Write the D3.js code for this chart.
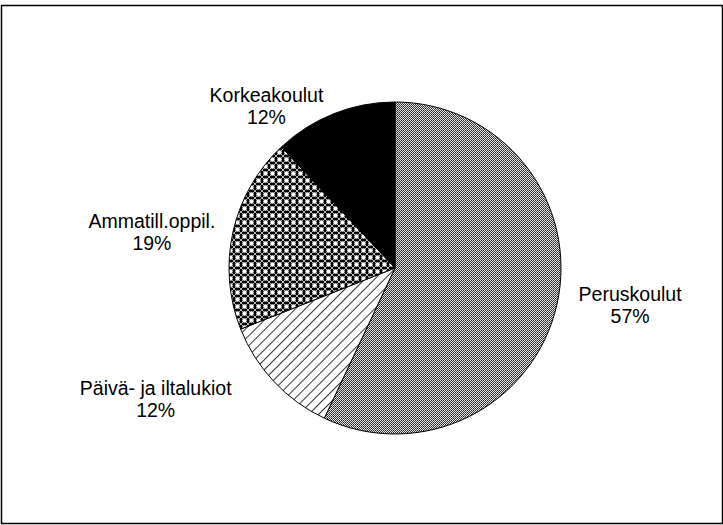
<!DOCTYPE html>
<html>
<head>
<meta charset="utf-8">
<script src="https://cdn.jsdelivr.net/npm/d3@7"></script>
<style>
  body { margin: 0; background: #fff; }
  svg { display: block; }
  text { font-family: "Liberation Sans", Arial, sans-serif; font-size: 19.5px; fill: #000; }
</style>
</head>
<body>
<svg id="chart" width="723" height="525"></svg>
<script>
// data
var categories = ["Peruskoulut", "Päivä- ja iltalukiot", "Ammatill.oppil.", "Korkeakoulut"];
var values = [57, 12, 19, 12];
var valueLabels = ["57%", "12%", "19%", "12%"];
var fills = ["url(#dots)", "url(#hatch)", "url(#cross)", "#000"];

var width = 723, height = 525;
var cx = 395, cy = 268, radius = 166;

var svg = d3.select("#chart");
var defs = svg.append("defs");

// gray checker (dotted grey)
var dots = defs.append("pattern")
    .attr("id", "dots")
    .attr("patternUnits", "userSpaceOnUse")
    .attr("width", 2).attr("height", 2);
dots.append("rect").attr("width", 2).attr("height", 2).attr("fill", "#e4e4e4");
dots.append("rect").attr("width", 1).attr("height", 1).attr("fill", "#222");
dots.append("rect").attr("x", 1).attr("y", 1).attr("width", 1).attr("height", 1).attr("fill", "#444");

// diagonal hatch
var hatch = defs.append("pattern")
    .attr("id", "hatch")
    .attr("patternUnits", "userSpaceOnUse")
    .attr("width", 7).attr("height", 7)
    .attr("patternTransform", "rotate(45)");
hatch.append("rect").attr("width", 7).attr("height", 7).attr("fill", "#fff");
hatch.append("line")
    .attr("x1", 0).attr("y1", 0).attr("x2", 0).attr("y2", 7)
    .attr("stroke", "#000").attr("stroke-width", 1.6);

// crosshatch with white dots
var cross = defs.append("pattern")
    .attr("id", "cross")
    .attr("patternUnits", "userSpaceOnUse")
    .attr("width", 7).attr("height", 7);
cross.append("rect").attr("width", 7).attr("height", 7).attr("fill", "#000");
cross.append("circle").attr("cx", 3.5).attr("cy", 3.5).attr("r", 2.2).attr("fill", "#fff");
cross.append("line").attr("x1", 0).attr("y1", 0).attr("x2", 7).attr("y2", 7)
    .attr("stroke", "#fff").attr("stroke-width", 0.7);
cross.append("line").attr("x1", 7).attr("y1", 0).attr("x2", 0).attr("y2", 7)
    .attr("stroke", "#fff").attr("stroke-width", 0.7);

// frame
svg.append("rect")
    .attr("x", 1.5).attr("y", 5.5)
    .attr("width", width - 2).attr("height", height - 7)
    .attr("fill", "none")
    .attr("stroke", "#000")
    .attr("stroke-width", 1.5);

var pie = d3.pie().sort(null).value(function(d) { return d; });
var arcs = pie(values);
var arc = d3.arc().innerRadius(0).outerRadius(radius);

var g = svg.append("g").attr("transform", "translate(" + cx + "," + cy + ")");

g.selectAll("path")
    .data(arcs)
    .enter()
    .append("path")
    .attr("d", arc)
    .attr("fill", function(d, i) { return fills[i]; })
    .attr("stroke", "#000")
    .attr("stroke-width", 1);

// labels outside the pie
var labelArc = d3.arc().innerRadius(radius + 80).outerRadius(radius + 80);
var labelOffsets = [[-5, -21], [-60, -41], [-3, 14], [-38, 63]];

var labels = svg.append("g").attr("transform", "translate(" + cx + "," + cy + ")");
labels.selectAll("text")
    .data(arcs)
    .enter()
    .append("text")
    .attr("text-anchor", "middle")
    .attr("transform", function(d, i) {
        var c = labelArc.centroid(d);
        return "translate(" + (c[0] + labelOffsets[i][0]) + "," + (c[1] + labelOffsets[i][1]) + ")";
    })
    .each(function(d, i) {
        var t = d3.select(this);
        t.append("tspan").attr("x", 0).attr("y", 0).text(categories[i]);
        t.append("tspan").attr("x", 0).attr("y", 22).text(valueLabels[i]);
    });
</script>
</body>
</html>
